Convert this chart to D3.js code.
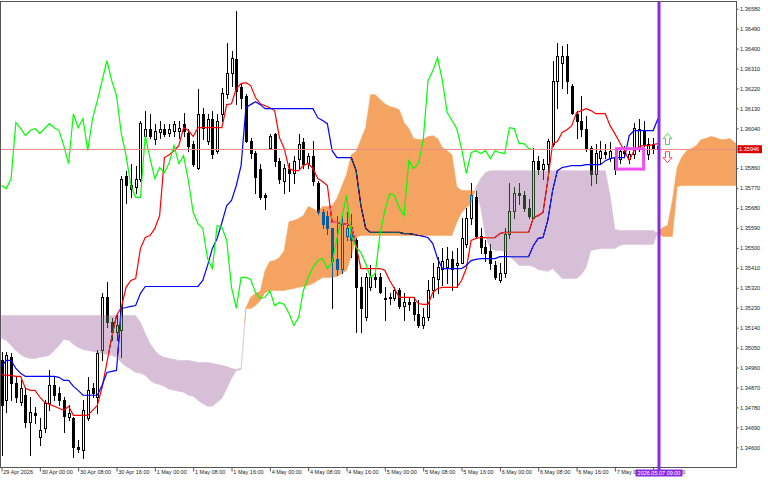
<!DOCTYPE html>
<html><head><meta charset="utf-8">
<script src="https://cdn.jsdelivr.net/npm/d3@7"></script>
<style>
html,body{margin:0;padding:0;background:#fff;}
svg{display:block;}
</style></head><body>
<svg id="c" width="768" height="480"></svg>
<script>
// ---- H1 candles, 29 Apr 16:00 .. 7 May 09:00 ----
const open=[1.34992,1.34812,1.35006,1.34889,1.34803,1.34835,1.34713,1.34753,1.34645,1.34686,
1.34798,1.34880,1.34844,1.34812,1.34735,1.34731,1.34600,1.34586,1.34731,1.34866,
1.34826,1.35037,1.35277,1.35164,1.35119,1.35128,1.35827,1.35782,1.35773,1.35813,
1.36007,1.36039,1.35994,1.36025,1.36039,1.36021,1.36030,1.36030,1.36061,1.36021,
1.35971,1.35863,1.36106,1.35985,1.36084,1.35939,1.36106,1.36197,1.36291,1.36354,
1.36228,1.36188,1.35985,1.35930,1.35858,1.35737,1.35953,1.36016,1.35894,1.35804,
1.35858,1.35840,1.35903,1.35976,1.35885,1.35917,1.35795,1.35660,1.35646,1.35588,
1.35452,1.35407,1.35556,1.35565,1.35534,1.35322,1.35186,1.35322,1.35367,1.35367,
1.35268,1.35272,1.35272,1.35308,1.35240,1.35254,1.35254,1.35204,1.35150,1.35186,
1.35308,1.35362,1.35407,1.35412,1.35452,1.35421,1.35434,1.35520,1.35633,1.35728,
1.35556,1.35502,1.35488,1.35421,1.35353,1.35385,1.35565,1.35669,1.35746,1.35737,
1.35682,1.35637,1.35894,1.35858,1.35881,1.35971,1.36255,1.36336,1.36368,1.36233,
1.36106,1.36075,1.36039,1.35949,1.35836,1.35908,1.35935,1.35908,1.35858,1.35903,
1.35939,1.35903,1.35926,1.35949,1.36030,1.35926,1.35971,1.35958];
const high=[1.35028,1.35028,1.35024,1.34916,1.34902,1.34871,1.34826,1.34780,1.34731,1.34812,
1.34947,1.34916,1.34871,1.34826,1.34789,1.34735,1.34632,1.34812,1.34916,1.34889,
1.35037,1.35295,1.35344,1.35182,1.35195,1.35827,1.35849,1.35881,1.35872,1.36075,
1.36120,1.36106,1.36061,1.36075,1.36061,1.36061,1.36075,1.36075,1.36111,1.36039,
1.35985,1.36219,1.36133,1.36106,1.36120,1.36106,1.36224,1.36427,1.36390,1.36571,
1.36242,1.36197,1.35998,1.35939,1.35881,1.35750,1.36016,1.36021,1.35908,1.35881,
1.35885,1.35917,1.36016,1.35998,1.35930,1.35985,1.35804,1.35678,1.35669,1.35592,
1.35646,1.35655,1.35660,1.35655,1.35543,1.35367,1.35385,1.35421,1.35385,1.35385,
1.35322,1.35295,1.35322,1.35317,1.35295,1.35277,1.35277,1.35263,1.35231,1.35353,
1.35430,1.35457,1.35498,1.35502,1.35488,1.35498,1.35637,1.35682,1.35791,1.35759,
1.35588,1.35534,1.35520,1.35443,1.35430,1.35592,1.35795,1.35773,1.35791,1.35759,
1.35723,1.35949,1.35917,1.35903,1.35994,1.36345,1.36427,1.36413,1.36422,1.36242,
1.36120,1.36188,1.36097,1.35962,1.35971,1.35985,1.35971,1.35976,1.35939,1.35953,
1.35962,1.35939,1.36066,1.36084,1.36075,1.35998,1.35998,1.35962];
const low=[1.34564,1.34758,1.34812,1.34803,1.34789,1.34690,1.34564,1.34708,1.34609,1.34668,
1.34767,1.34812,1.34789,1.34668,1.34722,1.34555,1.34577,1.34550,1.34722,1.34826,
1.34753,1.34992,1.35141,1.35083,1.35083,1.35006,1.35705,1.35728,1.35746,1.35804,
1.35994,1.35998,1.35971,1.35998,1.36007,1.36007,1.36007,1.35998,1.36007,1.35939,
1.35872,1.35858,1.35994,1.35971,1.35908,1.35930,1.36075,1.36179,1.36233,1.36151,
1.36133,1.35976,1.35908,1.35746,1.35723,1.35678,1.35949,1.35872,1.35795,1.35750,
1.35759,1.35791,1.35863,1.35863,1.35863,1.35782,1.35655,1.35588,1.35565,1.35227,
1.35376,1.35385,1.35534,1.35457,1.35119,1.35119,1.35173,1.35308,1.35322,1.35295,
1.35173,1.35249,1.35263,1.35231,1.35173,1.35218,1.35173,1.35141,1.35137,1.35173,
1.35277,1.35295,1.35331,1.35340,1.35308,1.35322,1.35430,1.35502,1.35610,1.35547,
1.35479,1.35443,1.35407,1.35362,1.35344,1.35367,1.35547,1.35637,1.35700,1.35669,
1.35633,1.35633,1.35836,1.35813,1.35836,1.35962,1.36133,1.36224,1.36201,1.36106,
1.35998,1.36007,1.35939,1.35782,1.35791,1.35881,1.35908,1.35894,1.35836,1.35885,
1.35917,1.35885,1.35908,1.35939,1.35962,1.35903,1.35930,1.35939];
const close=[1.34789,1.35015,1.34889,1.34826,1.34866,1.34713,1.34758,1.34744,1.34677,1.34798,
1.34880,1.34835,1.34812,1.34740,1.34753,1.34600,1.34591,1.34767,1.34857,1.34844,
1.35024,1.35277,1.35164,1.35119,1.35150,1.35813,1.35782,1.35768,1.35813,1.36066,
1.36039,1.36007,1.36030,1.36039,1.36016,1.36039,1.36061,1.36043,1.36030,1.35962,
1.35881,1.36106,1.36043,1.36084,1.35926,1.36075,1.36201,1.36291,1.36359,1.36210,
1.36179,1.35985,1.35930,1.35818,1.35728,1.35728,1.36007,1.35894,1.35813,1.35863,
1.35840,1.35894,1.35971,1.35881,1.35917,1.35804,1.35660,1.35610,1.35588,1.35443,
1.35407,1.35610,1.35592,1.35534,1.35322,1.35227,1.35367,1.35367,1.35358,1.35299,
1.35272,1.35277,1.35308,1.35240,1.35254,1.35245,1.35204,1.35150,1.35186,1.35308,
1.35367,1.35412,1.35443,1.35452,1.35407,1.35434,1.35543,1.35633,1.35737,1.35556,
1.35502,1.35479,1.35430,1.35367,1.35385,1.35565,1.35669,1.35746,1.35737,1.35682,
1.35646,1.35894,1.35858,1.35881,1.35985,1.36255,1.36368,1.36368,1.36255,1.36111,
1.36075,1.36039,1.35949,1.35836,1.35930,1.35939,1.35926,1.35939,1.35908,1.35939,
1.35930,1.35926,1.36043,1.36039,1.35971,1.35971,1.35949,1.35946];

// ---- Ichimoku lines ----
const tenkan=[1.34929,1.34925,1.34925,1.34920,1.34920,1.34866,1.34857,1.34857,1.34826,1.34803,
1.34794,1.34785,1.34776,1.34767,1.34785,1.34744,1.34744,1.34744,1.34744,1.34767,
1.34789,1.34871,1.34983,1.35096,1.35195,1.35231,1.35322,1.35353,1.35362,1.35498,
1.35547,1.35556,1.35588,1.35646,1.35908,1.35921,1.35939,1.35962,1.36043,1.36030,
1.36003,1.36043,1.36043,1.36043,1.36043,1.36043,1.36043,1.36147,1.36151,1.36219,
1.36242,1.36246,1.36233,1.36179,1.36151,1.36142,1.36133,1.36120,1.35998,1.35949,
1.35858,1.35849,1.35849,1.35872,1.35881,1.35858,1.35813,1.35800,1.35782,1.35615,
1.35615,1.35610,1.35606,1.35601,1.35511,1.35407,1.35407,1.35407,1.35407,1.35407,
1.35398,1.35353,1.35317,1.35277,1.35277,1.35277,1.35277,1.35249,1.35245,1.35245,
1.35299,1.35317,1.35322,1.35322,1.35322,1.35322,1.35353,1.35407,1.35534,1.35543,
1.35547,1.35547,1.35547,1.35547,1.35565,1.35570,1.35570,1.35570,1.35570,1.35570,
1.35570,1.35637,1.35646,1.35660,1.35804,1.35971,1.35980,1.36021,1.36034,1.36052,
1.36111,1.36120,1.36129,1.36120,1.36106,1.36106,1.36106,1.36052,1.36016,1.35976,
1.35939,1.35894,1.35939,1.35958,1.35962,1.35962,1.35967,1.35971];
const kijun=[1.34965,1.34992,1.34992,1.34956,1.34934,1.34920,1.34920,1.34920,1.34920,1.34920,
1.34920,1.34920,1.34916,1.34902,1.34902,1.34875,1.34857,1.34835,1.34835,1.34835,
1.34835,1.34880,1.34938,1.34943,1.34947,1.35227,1.35231,1.35236,1.35240,1.35295,
1.35326,1.35326,1.35326,1.35326,1.35326,1.35326,1.35326,1.35326,1.35326,1.35326,
1.35326,1.35326,1.35353,1.35421,1.35498,1.35543,1.35615,1.35691,1.35714,1.35782,
1.35872,1.36133,1.36147,1.36160,1.36147,1.36129,1.36129,1.36129,1.36129,1.36129,
1.36129,1.36129,1.36129,1.36129,1.36129,1.36129,1.36088,1.36075,1.36061,1.35939,
1.35908,1.35908,1.35908,1.35908,1.35849,1.35691,1.35588,1.35570,1.35570,1.35570,
1.35570,1.35570,1.35570,1.35570,1.35565,1.35565,1.35561,1.35556,1.35552,1.35547,
1.35520,1.35452,1.35407,1.35407,1.35407,1.35407,1.35407,1.35421,1.35443,1.35448,
1.35452,1.35452,1.35452,1.35452,1.35461,1.35461,1.35461,1.35461,1.35461,1.35461,
1.35461,1.35511,1.35543,1.35547,1.35624,1.35759,1.35849,1.35863,1.35867,1.35872,
1.35872,1.35872,1.35876,1.35876,1.35876,1.35876,1.35894,1.35903,1.35908,1.35908,
1.35908,1.36007,1.36030,1.36030,1.36030,1.36030,1.36030,1.36084];
const chikou=[1.35782,1.35768,1.35813,1.36066,1.36039,1.36007,1.36030,1.36039,1.36016,1.36039,
1.36061,1.36043,1.36030,1.35962,1.35881,1.36106,1.36043,1.36084,1.35939,1.36084,
1.36165,1.36255,1.36345,1.36255,1.36188,1.36016,1.35917,1.35782,1.35728,1.35728,
1.36007,1.35903,1.35813,1.35863,1.35840,1.35885,1.35962,1.35881,1.35917,1.35804,
1.35660,1.35610,1.35588,1.35452,1.35407,1.35601,1.35592,1.35534,1.35322,1.35227,
1.35367,1.35367,1.35358,1.35299,1.35272,1.35277,1.35308,1.35240,1.35254,1.35245,
1.35204,1.35150,1.35186,1.35308,1.35367,1.35412,1.35443,1.35452,1.35407,1.35434,
1.35543,1.35633,1.35737,1.35556,1.35502,1.35479,1.35430,1.35367,1.35385,1.35565,
1.35669,1.35746,1.35737,1.35682,1.35646,1.35894,1.35858,1.35881,1.35985,1.36255,
1.36300,1.36359,1.36255,1.36111,1.36075,1.36039,1.35949,1.35836,1.35930,1.35939,
1.35926,1.35939,1.35903,1.35939,1.35930,1.35926,1.36043,1.36039,1.35971,1.35971,
1.35949,1.35944];
const spanA=[1.35092,1.35083,1.35060,1.35037,1.35019,1.35006,1.35001,1.35001,1.35006,1.35010,
1.35015,1.35037,1.35060,1.35087,1.35083,1.35065,1.35051,1.35042,1.35037,1.35033,
1.35028,1.35024,1.35019,1.35015,1.35006,1.34983,1.34965,1.34952,1.34938,1.34934,
1.34925,1.34902,1.34889,1.34884,1.34875,1.34862,1.34857,1.34853,1.34848,1.34835,
1.34830,1.34812,1.34798,1.34785,1.34785,1.34803,1.34821,1.34866,1.34911,1.34947,
1.34950,1.35229,1.35277,1.35295,1.35304,1.35398,1.35439,1.35443,1.35457,1.35488,
1.35619,1.35624,1.35633,1.35646,1.35687,1.35678,1.35664,1.35687,1.35687,1.35691,
1.35723,1.35777,1.35831,1.35921,1.35935,1.35989,1.36043,1.36192,1.36192,1.36170,
1.36151,1.36138,1.36133,1.36124,1.36066,1.36039,1.35994,1.35989,1.35989,1.36003,
1.36007,1.35994,1.35953,1.35939,1.35921,1.35777,1.35759,1.35759,1.35759,1.35755,
1.35682,1.35552,1.35498,1.35488,1.35488,1.35484,1.35461,1.35443,1.35421,1.35421,
1.35421,1.35416,1.35403,1.35398,1.35394,1.35407,1.35385,1.35362,1.35362,1.35362,
1.35362,1.35380,1.35412,1.35488,1.35493,1.35498,1.35498,1.35498,1.35498,1.35511,
1.35516,1.35516,1.35516,1.35516,1.35516,1.35516,1.35516,1.35574,1.35592,1.35601,
1.35714,1.35863,1.35912,1.35939,1.35949,1.35962,1.35989,1.35994,1.36003,1.35998,
1.35989,1.35989,1.35994,1.35976,1.35962,1.35939,1.35921,1.35949,1.35985,1.35994,
1.35994,1.35994,1.35994,1.36025];
const spanB=[1.35195,1.35195,1.35195,1.35195,1.35195,1.35195,1.35195,1.35195,1.35195,1.35195,
1.35195,1.35195,1.35195,1.35195,1.35195,1.35195,1.35195,1.35195,1.35195,1.35195,
1.35195,1.35195,1.35195,1.35195,1.35195,1.35195,1.35195,1.35195,1.35195,1.35164,
1.35114,1.35069,1.35037,1.35015,1.35006,1.35001,1.34997,1.34992,1.34992,1.34992,
1.34988,1.34983,1.34983,1.34983,1.34979,1.34974,1.34970,1.34965,1.34956,1.34952,
1.34956,1.35227,1.35227,1.35240,1.35263,1.35299,1.35308,1.35308,1.35308,1.35308,
1.35313,1.35317,1.35322,1.35326,1.35331,1.35340,1.35353,1.35367,1.35367,1.35367,
1.35371,1.35385,1.35398,1.35466,1.35547,1.35556,1.35556,1.35556,1.35556,1.35556,
1.35556,1.35556,1.35556,1.35556,1.35556,1.35556,1.35556,1.35556,1.35556,1.35556,
1.35556,1.35556,1.35556,1.35556,1.35556,1.35615,1.35660,1.35682,1.35700,1.35773,
1.35813,1.35840,1.35849,1.35849,1.35849,1.35849,1.35849,1.35849,1.35849,1.35849,
1.35849,1.35849,1.35849,1.35849,1.35849,1.35849,1.35849,1.35849,1.35849,1.35849,
1.35849,1.35849,1.35849,1.35849,1.35849,1.35849,1.35849,1.35737,1.35583,1.35579,
1.35579,1.35579,1.35579,1.35579,1.35579,1.35579,1.35579,1.35565,1.35552,1.35552,
1.35552,1.35777,1.35782,1.35782,1.35782,1.35782,1.35782,1.35782,1.35782,1.35782,
1.35782,1.35782,1.35782,1.35782,1.35782,1.35782,1.35782,1.35782,1.35782,1.35782,
1.35782,1.35782,1.35782,1.35782];

// ---- axes / labels ----
const yTickValues=[1.34600,1.34690,1.34780,1.34870,1.34960,1.35050,1.35140,1.35230,1.35320,1.35410,
1.35500,1.35590,1.35680,1.35770,1.35860,1.36040,1.36130,1.36220,1.36310,1.36400,1.36490,1.36580];
const xTickIndex=[0,8,16,24,32,40,48,56,64,72,80,88,96,104,112,120,128,136];
const xTickLabels=["29 Apr 2026","30 Apr 00:00","30 Apr 08:00","30 Apr 16:00","1 May 00:00","1 May 08:00",
"1 May 16:00","4 May 00:00","4 May 08:00","4 May 16:00","5 May 00:00","5 May 08:00","5 May 16:00",
"6 May 00:00","6 May 08:00","6 May 16:00","7 May 00:00","7 May 08:00"];
const bidPrice=1.35946;
const currentBar=137;
const currentTimeLabel="2026.05.07 09:00";
const boxBars=[128.35,134];
const boxPrices=[1.35948,1.35856];

// ---- layout ----
const R=736, T=2, B=467;
const FONT='"Liberation Sans", Arial, sans-serif';
const svg=d3.select("#c");
svg.append("rect").attr("width",768).attr("height",480).attr("fill","#fff");
const defs=svg.append("defs");
defs.append("clipPath").attr("id","plot").append("rect").attr("x",0).attr("y",T).attr("width",R).attr("height",B-T);

const x=d3.scaleLinear().domain([0,137]).range([1.5,658]);
const y=d3.scaleLinear().domain([1.34600,1.36580]).range([447.3,8.7]);

const plot=svg.append("g").attr("clip-path","url(#plot)");
// white backdrop inside the isolated plot group so the cloud blending works
plot.append("rect").attr("x",0).attr("y",0).attr("width",R+2).attr("height",B+2).attr("fill","#fff");

// candles
const cg=plot.append("g").attr("shape-rendering","crispEdges");
open.forEach((o,i)=>{
  const c=close[i], r=Math.round(x(i));
  cg.append("line").attr("x1",r+0.5).attr("x2",r+0.5)
    .attr("y1",Math.round(y(high[i]))).attr("y2",Math.round(y(low[i]))+1)
    .attr("stroke","#000").attr("stroke-width",1);
  const t=Math.round(y(Math.max(o,c))), b=Math.round(y(Math.min(o,c)));
  if(c>=o){
    cg.append("rect").attr("x",r-0.5).attr("y",t+0.5).attr("width",2).attr("height",Math.max(b-t,0.01))
      .attr("fill","#fff").attr("stroke","#000").attr("stroke-width",1);
  } else {
    cg.append("rect").attr("x",r-1).attr("y",t).attr("width",3).attr("height",Math.max(b-t+1,1))
      .attr("fill","#000");
  }
});

const line=d3.line().x((d,i)=>x(i)).y(d=>y(d));
plot.append("path").attr("d",line(tenkan)).attr("fill","none").attr("stroke","#ff0000").attr("stroke-width",1.2);
plot.append("path").attr("d",line(kijun)).attr("fill","none").attr("stroke","#0000ff").attr("stroke-width",1.2);

// cloud (XOR-like look via difference blending)
const runs=[]; let cur=null;
for(let i=0;i<spanA.length;i++){
  const d=spanA[i]-spanB[i]; const s=d>=0?1:-1;
  if(!cur) cur={s,pts:[]};
  cur.pts.push([i,spanA[i],spanB[i]]);
  if(i<spanA.length-1){
    const d1=spanA[i+1]-spanB[i+1]; const s1=d1>=0?1:-1;
    if(s1!==cur.s){
      const t=d/(d-d1); const pc=spanA[i]+t*(spanA[i+1]-spanA[i]);
      cur.pts.push([i+t,pc,pc]); runs.push(cur);
      cur={s:s1,pts:[[i+t,pc,pc]]};
    }
  }
}
runs.push(cur);
const area=d3.area().x(p=>x(p[0])).y0(p=>y(p[2])).y1(p=>y(p[1]));
const cloud=plot.append("g").style("mix-blend-mode","difference");
runs.forEach(rn=>{
  cloud.append("path").attr("d",area(rn.pts))
    .attr("fill",rn.s>0?"rgb(11,91,159)":"rgb(39,64,39)")
    .attr("stroke",rn.s>0?"rgb(11,91,159)":"rgb(39,64,39)").attr("stroke-width",0.6);
});

plot.append("path").attr("d",line(chikou)).attr("fill","none").attr("stroke","#00ff00").attr("stroke-width",1.2);

// bid line
plot.append("line").attr("x1",0).attr("x2",R).attr("y1",Math.round(y(bidPrice))+0.5).attr("y2",Math.round(y(bidPrice))+0.5)
  .attr("stroke","#e88c8c").attr("stroke-width",1);

// highlight box
plot.append("rect").attr("x",x(boxBars[0])).attr("y",y(boxPrices[0]))
  .attr("width",x(boxBars[1])-x(boxBars[0])).attr("height",y(boxPrices[1])-y(boxPrices[0]))
  .attr("fill","none").attr("stroke","#f24ff2").attr("stroke-width",3);

// arrows
const ax=x(currentBar)+9.5, by=y(bidPrice);
plot.append("path").attr("transform",`translate(${ax},${by-10})`)
  .attr("d","M0,-5.5L4.5,-0.5L2,-0.5L2,5.5L-2,5.5L-2,-0.5L-4.5,-0.5Z")
  .attr("fill","#fff").attr("stroke","#55cc55").attr("stroke-width",1);
plot.append("path").attr("transform",`translate(${ax},${by+8})`)
  .attr("d","M0,5.5L4.5,0.5L2,0.5L2,-5.5L-2,-5.5L-2,0.5L-4.5,0.5Z")
  .attr("fill","#fff").attr("stroke","#ff5050").attr("stroke-width",1);

// frame
svg.append("rect").attr("x",0.5).attr("y",T-0.5).attr("width",R).attr("height",B-T+1)
  .attr("fill","none").attr("stroke","#555").attr("stroke-width",1);

// y axis
const yAxis=d3.axisRight(y).tickValues(yTickValues).tickFormat(d3.format(".5f")).tickSize(2).tickPadding(1.5);
svg.append("g").attr("transform",`translate(${R+0.5},0)`).call(yAxis)
  .call(g=>g.select(".domain").remove())
  .call(g=>g.selectAll("line").attr("stroke","#555"))
  .call(g=>g.selectAll("text").attr("font-family",FONT).attr("font-size","5.6px").attr("fill","#222"));

// x axis
const xAxis=d3.axisBottom(x).tickValues(xTickIndex).tickFormat((d,i)=>xTickLabels[i]).tickSize(4).tickPadding(1);
svg.append("g").attr("transform",`translate(0,${B+0.5})`).call(xAxis)
  .call(g=>g.select(".domain").remove())
  .call(g=>g.selectAll("line").attr("stroke","#555"))
  .call(g=>g.selectAll("text").attr("font-family",FONT).attr("font-size","5.5px").attr("fill","#222")
      .attr("text-anchor","start").attr("dx","1.3").attr("y",2.2));

// bid label
const byr=Math.round(y(bidPrice));
svg.append("rect").attr("x",R+1.5).attr("y",byr-3.8).attr("width",24.5).attr("height",8).attr("fill","#e10000");
svg.append("text").attr("x",R+3).attr("y",byr+0.3).attr("dy","0.35em").attr("font-family",FONT)
  .attr("font-size","5.6px").attr("fill","#fff").text(d3.format(".5f")(bidPrice));

// current time line + label
const cx=Math.round(x(currentBar))+1;
svg.append("line").attr("x1",cx).attr("x2",cx).attr("y1",T).attr("y2",B+3)
  .attr("stroke","#8a2be2").attr("stroke-width",3);
svg.append("rect").attr("x",cx-23.5).attr("y",B+2.5).attr("width",47).attr("height",7).attr("fill","#8a2be2");
svg.append("text").attr("x",cx).attr("y",B+6).attr("dy","0.35em").attr("text-anchor","middle")
  .attr("font-family",FONT).attr("font-size","5.5px").attr("fill","#fff").text(currentTimeLabel);
</script>
</body></html>
